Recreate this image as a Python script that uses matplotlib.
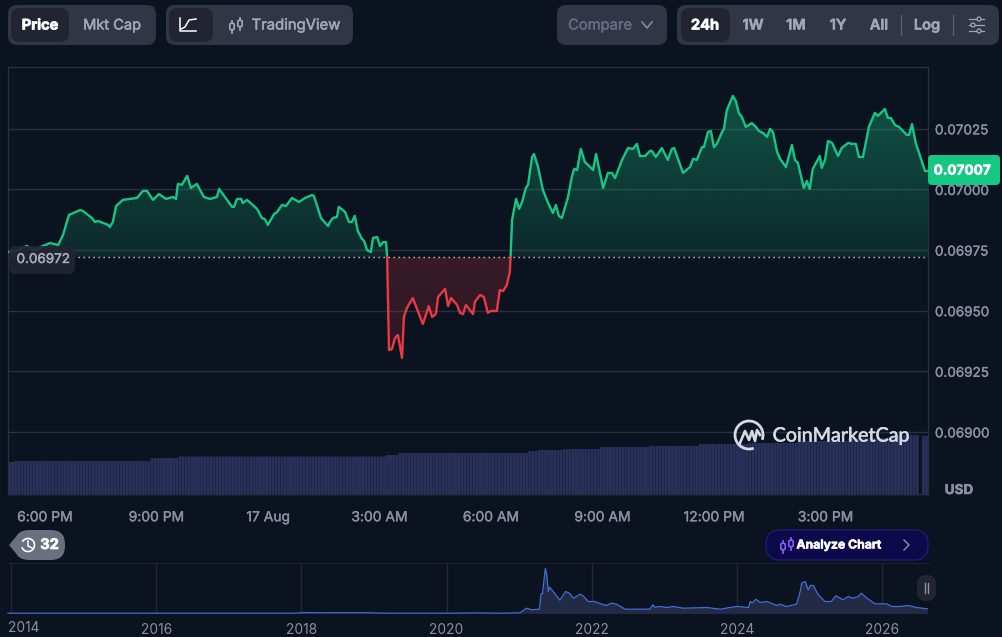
#!/usr/bin/env python3
# plot.py - 24h price chart panel with volume bars and full history strip
import numpy as np
import matplotlib
matplotlib.use("Agg")
import matplotlib.pyplot as plt
import matplotlib.patheffects as pe
from matplotlib.patches import FancyBboxPatch, Arc, Circle, Polygon
from matplotlib.path import Path

plt.rcParams['font.family'] = ['Inter', 'DejaVu Sans']

# hours since 16 Aug 00:00
hours = [17.00, 17.19, 17.32, 17.51, 17.70, 17.94, 18.13, 18.35, 18.48, 18.64, 18.94, 19.02, 19.26, 19.34, 19.42,
         19.69, 19.74, 19.82, 19.91, 20.09, 20.47, 20.63, 20.74, 20.90, 21.06, 21.25, 21.44, 21.52, 21.57, 21.68,
         21.82, 21.92, 22.08, 22.27, 22.43, 22.62, 22.68, 23.03, 23.08, 23.16, 23.27, 23.32, 23.43, 23.70, 23.83,
         23.91, 23.99, 24.16, 24.24, 24.37, 24.48, 24.64, 24.83, 24.99, 25.18, 25.23, 25.42, 25.61, 25.66, 25.74,
         25.85, 25.90, 26.07, 26.17, 26.25, 26.33, 26.41, 26.52, 26.58, 26.66, 26.76, 26.82, 26.93, 27.01, 27.09,
         27.17, 27.20,
         27.25, 27.33, 27.41, 27.49, 27.60, 27.65, 27.73, 27.89, 28.16, 28.32, 28.41, 28.51, 28.57, 28.76, 28.84,
         28.92, 29.08, 29.16, 29.24, 29.32, 29.51, 29.56, 29.70, 29.80, 29.91, 29.99, 30.15, 30.23, 30.32, 30.42,
         30.50, 30.52,
         30.56, 30.67, 30.75, 30.83, 30.93, 30.99, 31.10, 31.15, 31.26, 31.39, 31.53, 31.66, 31.74, 31.82, 31.90,
         32.06, 32.17, 32.23, 32.31, 32.41, 32.52, 32.66, 32.74, 32.82, 33.01, 33.14, 33.25, 33.33, 33.52, 33.68,
         33.81, 33.92, 34.00, 34.14, 34.27, 34.32, 34.43, 34.59, 34.75, 34.86, 34.92, 35.16, 35.35, 35.43, 35.53,
         35.67, 35.72, 35.83, 35.91, 35.99, 36.07, 36.21, 36.26, 36.34, 36.50, 36.58, 36.66, 36.74, 36.85, 37.01,
         37.12, 37.20, 37.31, 37.42, 37.50, 37.58, 37.69, 37.77, 37.93, 38.09, 38.17, 38.25, 38.41, 38.49, 38.57,
         38.65, 38.84, 38.89, 38.98, 39.06, 39.17, 39.33, 39.43, 39.60, 39.70, 39.81, 39.89, 40.00, 40.16, 40.32,
         40.40, 40.59, 40.67, 40.75, 40.86, 40.97, 41.18, 41.24, 41.32, 41.42, 41.67, 41.75]

prices = [0.069742, 0.069746, 0.069755, 0.069767, 0.069750, 0.069767, 0.069779, 0.069771, 0.069812, 0.069895,
          0.069915, 0.069911, 0.069882, 0.069866, 0.069870, 0.069854, 0.069845, 0.069866, 0.069932, 0.069957,
          0.069965, 0.069994, 0.069994, 0.069957, 0.069981, 0.069961, 0.069969, 0.069961, 0.070023, 0.070019,
          0.070056, 0.070006, 0.070023, 0.069969, 0.069961, 0.069969, 0.070002, 0.069928, 0.069928, 0.069961,
          0.069961, 0.069944, 0.069957, 0.069920, 0.069882, 0.069878, 0.069854, 0.069899, 0.069907, 0.069936,
          0.069932, 0.069965, 0.069948, 0.069965, 0.069977, 0.069973, 0.069882, 0.069849, 0.069866, 0.069882,
          0.069887, 0.069928, 0.069907, 0.069866, 0.069866, 0.069891, 0.069829, 0.069796, 0.069788, 0.069750,
          0.069742, 0.069800, 0.069804, 0.069767, 0.069783, 0.069783, 0.069720,
          0.069338, 0.069342, 0.069387, 0.069400, 0.069305, 0.069474, 0.069511, 0.069552, 0.069445, 0.069519,
          0.069474, 0.069486, 0.069557, 0.069590, 0.069519, 0.069552, 0.069524, 0.069491, 0.069486, 0.069524,
          0.069486, 0.069536, 0.069565, 0.069557, 0.069491, 0.069499, 0.069499, 0.069585, 0.069581, 0.069606,
          0.069660, 0.069720,
          0.069874, 0.069961, 0.069920, 0.069948, 0.070006, 0.070019, 0.070134, 0.070146, 0.070093, 0.069998,
          0.069944, 0.069903, 0.069936, 0.069891, 0.069882, 0.069965, 0.070052, 0.070085, 0.070080, 0.070167,
          0.070113, 0.070093, 0.070080, 0.070146, 0.070006, 0.070068, 0.070068, 0.070047, 0.070122, 0.070171,
          0.070167, 0.070188, 0.070138, 0.070138, 0.070159, 0.070159, 0.070134, 0.070171, 0.070122, 0.070167,
          0.070171, 0.070068, 0.070093, 0.070126, 0.070122, 0.070175, 0.070175, 0.070237, 0.070241, 0.070175,
          0.070188, 0.070237, 0.070250, 0.070328, 0.070386, 0.070365, 0.070316, 0.070299, 0.070258, 0.070274,
          0.070258, 0.070241, 0.070233, 0.070217, 0.070250, 0.070237, 0.070155, 0.070126, 0.070093, 0.070184,
          0.070122, 0.070109, 0.070006, 0.070035, 0.070002, 0.070085, 0.070138, 0.070089, 0.070122, 0.070200,
          0.070192, 0.070138, 0.070171, 0.070192, 0.070188, 0.070188, 0.070134, 0.070134, 0.070258, 0.070316,
          0.070303, 0.070332, 0.070295, 0.070295, 0.070266, 0.070258, 0.070225, 0.070225, 0.070270, 0.070192,
          0.070076, 0.070076]

open_price = 0.06972
last_price = "0.07007"
open_label = "0.06972"

price_ticks = [0.06900, 0.06925, 0.06950, 0.06975, 0.07000, 0.07025]
time_ticks = [18, 21, 24, 27, 30, 33, 36, 39]
time_labels = ["6:00 PM", "9:00 PM", "17 Aug", "3:00 AM", "6:00 AM", "9:00 AM", "12:00 PM", "3:00 PM"]

# 5 minute volume bars, as runs of equal height (no scale shown on the chart)
volume_levels = [33, 34, 37, 38.5, 40, 42, 44, 45, 46, 48, 49, 51, 52, 54, 57, 60, 1, 59]
volume_runs = [2, 44, 9, 67, 4, 42, 3, 8, 12, 16, 16, 16, 16, 16, 16, 7, 1, 2]

# history strip, no scale shown either
hist_years = [2013.96, 2017.90, 2018.05, 2018.30, 2018.90, 2019.20, 2020.00, 2020.40, 2020.74, 2021.01, 2021.10,
              2021.17, 2021.28, 2021.30, 2021.32, 2021.36, 2021.38, 2021.40, 2021.42, 2021.46, 2021.54, 2021.56,
              2021.64, 2021.69, 2021.75, 2021.84, 2021.88, 2021.95, 2022.04, 2022.11, 2022.20, 2022.27, 2022.34,
              2022.46, 2022.80, 2022.84, 2022.87, 2022.94, 2023.03, 2023.12, 2023.26, 2023.58, 2023.77, 2023.90,
              2024.00, 2024.16, 2024.18, 2024.21, 2024.26, 2024.32, 2024.41, 2024.55, 2024.59, 2024.68, 2024.82,
              2024.87, 2024.89, 2024.94, 2024.98, 2025.01, 2025.05, 2025.12, 2025.21, 2025.30, 2025.36, 2025.46,
              2025.53, 2025.60, 2025.67, 2025.71, 2025.79, 2025.90, 2026.06, 2026.13, 2026.24, 2026.36, 2026.47,
              2026.62]
hist_values = [0.3, 0.3, 0.9, 0.7, 0.7, 0.3, 0.3, 0.6, 0.3, 0.7, 5.3,
               3.7, 4.3, 19.7, 19.7, 45.3, 38.7, 22, 26.3, 22.7, 15.3, 13.3,
               22, 20.3, 15.3, 19.3, 17.7, 12, 12, 10, 8, 10.3, 9.3,
               4.3, 4.3, 8.7, 6.3, 7, 6, 7, 5.3, 6, 4.3, 6,
               7, 6, 12, 10.3, 14.3, 11, 12, 8, 9.3, 7, 9.3,
               22, 30.3, 32, 23.7, 28, 28, 18.7, 12, 12, 17.7, 13.7,
               17, 15.3, 17, 20.3, 15.3, 9.7, 9.7, 7, 7, 8, 6,
               4.7]
hist_ticks = [2014, 2016, 2018, 2020, 2022, 2024, 2026]

BG = "#0c1320"
GREEN = "#16c784"
RED = "#ea3943"
GRID = "#2a303c"
AXIS_TEXT = "#8b90a3"
BTN = "#323546"
BTN_ON = "#222531"
BTN_TEXT = "#a1a7bb"
W, H = 1002, 637


def px_axes(fig, left, top, right, bottom, **kw):
    """Axes placed by pixel box measured from the top left of the figure."""
    return fig.add_axes([left / W, 1 - bottom / H, (right - left) / W, (bottom - top) / H], **kw)


def gradient_fill(ax, x, y, base, where, rgb, a_far, a_near, extent):
    poly = ax.fill_between(x, y, base, where=where, color="none", lw=0)
    path = Path.make_compound_path(*poly.get_paths())
    img = np.zeros((256, 1, 4))
    img[..., :3] = matplotlib.colors.to_rgb(rgb)
    img[..., 3] = np.linspace(a_far, a_near, 256).reshape(-1, 1)
    im = ax.imshow(img, extent=extent, aspect="auto", origin="upper", zorder=1.5, interpolation="bilinear")
    im.set_clip_path(path, transform=ax.transData)


def button(ui, x0, y0, x1, y1, color, r=9, **kw):
    ui.add_patch(FancyBboxPatch((x0 + r, y0 + r), x1 - x0 - 2 * r, y1 - y0 - 2 * r,
                                boxstyle=f"round,pad={r},rounding_size={r}", fc=color, ec=kw.pop("ec", "none"),
                                lw=kw.pop("lw", 0), **kw))


def candle_icon(ui, cx, cy, color, lw=1.2):
    for dx, dy in ((-4, 1.5), (4, -1.5)):
        ui.plot([cx + dx] * 2, [cy - 7 + dy, cy + 7 + dy], color=color, lw=lw, solid_capstyle="butt")
        ui.add_patch(FancyBboxPatch((cx + dx - 1.6, cy + dy - 2.6), 3.2, 5.2, boxstyle="round,pad=0.6,rounding_size=1.5",
                                    fc=BTN if color != "#8b5cf6" else "#0c0a4a", ec=color, lw=lw, zorder=4))


def label(ui, x, y, s, color, size=10.5, stroke=0.35, **kw):
    """Centred text, thickened a little since the font renders light at this size."""
    t = ui.text(x, y, s, color=color, fontsize=size, ha="center", va="center", **kw)
    t.set_path_effects([pe.withStroke(linewidth=stroke, foreground=color)])
    return t


hours_a = np.array(hours)
prices_a = np.array(prices)

fig = plt.figure(figsize=(W / 100, H / 100), dpi=100, facecolor=BG)

# ---- main price panel
ax = px_axes(fig, 8, 67, 928, 495, facecolor=BG)
xlim = (17, 41.75)
ylim = (0.068740, 0.070505)

# volume goes underneath on its own scale, one unit is one pixel of the panel
vol = ax.twinx()
vol.set_zorder(0)
ax.set_zorder(1)
ax.patch.set_visible(False)
vol.patch.set_facecolor(BG)
vol.patch.set_visible(True)
vol_heights = np.repeat(volume_levels, volume_runs)
vol_times = 17 + (np.arange(len(vol_heights)) + 0.5) / 12
vol.bar(vol_times, vol_heights, width=0.077, color="#29315a", lw=0, snap=False)
vol.set_ylim(0, 428)
vol.set_yticks([])
for s in vol.spines.values():
    s.set_visible(False)

ax.set_yticks(price_ticks)
ax.set_yticklabels([f"{t:.5f}" for t in price_ticks])
ax.set_xticks(time_ticks)
ax.set_xticklabels(time_labels)
ax.yaxis.tick_right()
ax.tick_params(axis="y", length=0, pad=5, labelsize=9.7, labelcolor=AXIS_TEXT)
ax.tick_params(axis="x", length=0, pad=11, labelsize=10, labelcolor=AXIS_TEXT)
ax.grid(axis="y", color=GRID, lw=1.0)
ax.set_axisbelow(True)
for name, s in ax.spines.items():
    s.set_color(GRID)
    s.set_linewidth(0.9)
ax.spines["bottom"].set_color("#171d2a")
for t in ax.get_xticklabels() + ax.get_yticklabels():
    t.set_path_effects([pe.withStroke(linewidth=0.25, foreground=AXIS_TEXT)])

above = prices_a >= open_price
below = prices_a <= open_price
extent = (xlim[0], xlim[1], open_price, 0.070386)
gradient_fill(ax, hours_a, prices_a, open_price, above, GREEN, 0.36, 0.12, extent)
gradient_fill(ax, hours_a, prices_a, open_price, below, RED, 0.20, 0.14, (xlim[0], xlim[1], 0.069305, open_price))

ax.plot(hours_a, np.ma.masked_where(~above, prices_a), color=GREEN, lw=1.7, zorder=3, solid_joinstyle="round")
ax.plot(hours_a, np.ma.masked_where(~below, prices_a), color=RED, lw=1.7, zorder=3, solid_joinstyle="round")
ax.axhline(open_price, color="#c9ccd4", lw=1.0, ls=(0, (1, 2.6)), zorder=2.5)

ax.set_xlim(*xlim)
ax.set_ylim(*ylim)

# ---- history strip
mini = px_axes(fig, 8, 563, 928, 613.5, facecolor=BG)
mini.fill_between(hist_years, hist_values, 0, color="#232a46", lw=0)
mini.plot(hist_years, hist_values, color="#3f6fd8", lw=0.9, clip_on=False)
mini.set_xlim(2013.96, 2026.63)
mini.set_ylim(0, 50.5)
mini.set_yticks([])
mini.set_xticks(hist_ticks)
mini.set_xticklabels([""] + [str(t) for t in hist_ticks[1:]])
mini.tick_params(axis="x", length=0, pad=7, labelsize=9.9, labelcolor=AXIS_TEXT)
mini.grid(axis="x", color="#232834", lw=1.0)
mini.set_axisbelow(True)
for name, s in mini.spines.items():
    s.set_visible(name == "top")
mini.spines["top"].set_color("#1d2230")
mini.annotate(str(hist_ticks[0]), xy=(0, 0), xycoords="axes fraction", xytext=(0, -14.5), textcoords="offset pixels",
              color=AXIS_TEXT, fontsize=9.9, va="center", ha="left")

# ---- interface elements, laid out in pixels
ui = fig.add_axes([0, 0, 1, 1], zorder=5)
ui.set_xlim(0, W)
ui.set_ylim(H, 0)
ui.axis("off")

button(ui, 8, 5, 156, 45, BTN)
button(ui, 11, 8, 69, 42, BTN_ON)
label(ui, 40, 25.5, "Price", "white", fontweight="bold", stroke=0.5)
label(ui, 112, 25.5, "Mkt Cap", BTN_TEXT)

button(ui, 166, 5, 353, 45, BTN)
button(ui, 169, 8, 213, 42, BTN_ON)
ui.plot([180, 180, 196], [18, 31, 31], color="white", lw=1.1)
ui.plot([181, 185, 189, 196], [29, 27, 20, 19], color="white", lw=1.1)
candle_icon(ui, 236, 25, BTN_TEXT)
label(ui, 296, 25.5, "TradingView", BTN_TEXT, size=10.7)

button(ui, 557, 5, 667, 45, BTN)
label(ui, 600, 25.5, "Compare", "#616e85", size=10.6)
ui.plot([642, 647, 652], [22, 28, 22], color="#8b90a3", lw=1.1)

button(ui, 677, 5, 999, 45, BTN)
button(ui, 681, 8, 730, 42, BTN_ON)
label(ui, 705, 25.5, "24h", "white", fontweight="bold", stroke=0.5)
for cx, lab in zip((753, 796, 838, 879, 927), ("1W", "1M", "1Y", "All", "Log")):
    label(ui, cx, 25.5, lab, BTN_TEXT, fontweight="semibold", stroke=0.4)
for sx in (901, 953):
    ui.plot([sx, sx], [15, 35], color="#5a5f72", lw=0.9)
for yy, kx in ((19, 979), (25, 973), (31, 979)):
    ui.plot([969, 984], [yy, yy], color=BTN_TEXT, lw=0.9)
    ui.add_patch(Circle((kx, yy), 2.0, fc=BTN, ec=BTN_TEXT, lw=0.9, zorder=4))

# price tags
button(ui, 928, 155, 1000, 185, GREEN, r=4)
label(ui, 962, 170.5, last_price, "white", size=9.8, stroke=0.4, fontweight="bold", zorder=4)
button(ui, 9, 246, 75, 274, "#222632", r=7, alpha=0.92)
label(ui, 43, 259, open_label, "#a7acba", size=9.7, stroke=0.3)
label(ui, 959, 490, "USD", "#8b90a3", size=9.7, fontweight="bold", stroke=0.4)

# CoinMarketCap mark
ui.add_patch(Arc((749, 435), 28, 28, theta1=70, theta2=380, color="#d5dae5", lw=2.0))
ui.plot([740, 745, 749, 752, 755, 757, 760], [443, 431, 440, 431, 441, 430, 435], color="#d5dae5", lw=1.9,
        solid_joinstyle="round")
label(ui, 841, 436, "CoinMarketCap", "#d5dae5", size=14.2, stroke=0.4, family=["Lato", "DejaVu Sans"])

# alerts pill
button(ui, 15, 530, 65, 560, "#6b7080", r=14)
ui.add_patch(Polygon([[9, 545], [19, 533], [19, 557]], closed=True, fc="#6b7080", ec="none"))
ui.add_patch(Arc((28, 545), 13, 13, theta1=-150, theta2=160, color="white", lw=1.2))
ui.plot([28, 28, 32], [541, 546, 548], color="white", lw=1.1)
label(ui, 49.5, 545, "32", "white", size=10.5, fontweight="bold", stroke=0.5)

# analyze button
button(ui, 766, 530, 928, 560, "#0c0a4a", r=14, ec="#241a70", lw=1.0)
candle_icon(ui, 787, 545, "#8b5cf6")
label(ui, 839, 545.5, "Analyze Chart", "white", size=8.8, fontweight="bold", stroke=0.4)
ui.plot([904, 909, 904], [540, 545, 550], color="#8b90a3", lw=1.0)

# strip handle
button(ui, 917, 575, 936, 601, "#222531", r=9)
for hx in (925, 928.5):
    ui.plot([hx, hx], [583, 593], color="#8b90a3", lw=1.0)

fig.savefig("out.png", dpi=100, facecolor=BG)
